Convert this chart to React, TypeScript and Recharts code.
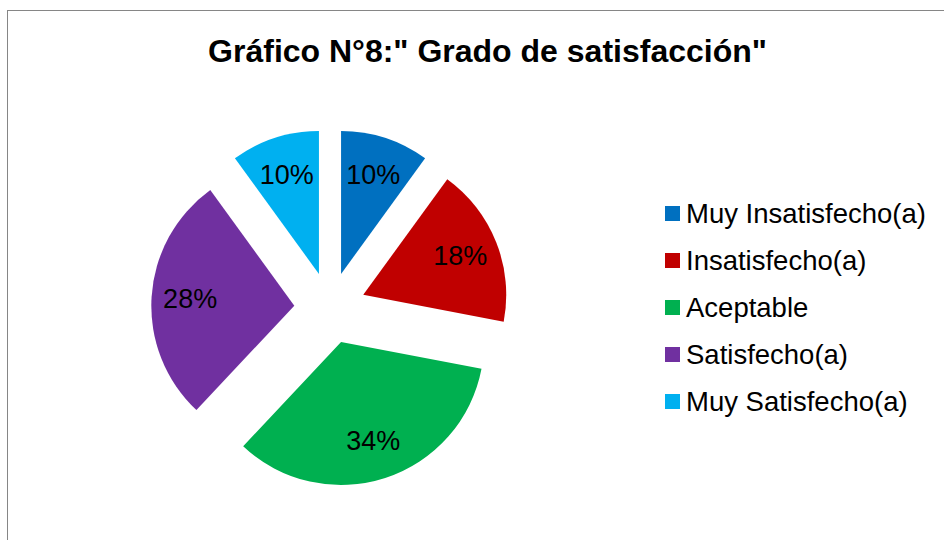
import { PieChart, Pie, Cell, Legend, Sector } from 'recharts';

const CATEGORIES = ['Muy Insatisfecho(a)', 'Insatisfecho(a)', 'Aceptable', 'Satisfecho(a)', 'Muy Satisfecho(a)'];
const PERCENTS = [10, 18, 34, 28, 10];
const COLORS = ['#0070C0', '#C00000', '#00B050', '#7030A0', '#00B0F0'];

const data = CATEGORIES.map((name, i) => ({ name, value: PERCENTS[i] }));

const FONT = '"Liberation Sans", Arial, sans-serif';
const RADIAN = Math.PI / 180;
const EXPLODE = 0.25;

// each slice is drawn pulled out from the centre, with its percentage inside
const renderSlice = (props: any) => {
	const { cx, cy, midAngle, outerRadius, startAngle, endAngle, percent, index } = props;
	const d = outerRadius * EXPLODE;
	const ex = cx + d * Math.cos(-midAngle * RADIAN);
	const ey = cy + d * Math.sin(-midAngle * RADIAN);
	const lr = outerRadius * 0.73;
	const lx = ex + lr * Math.cos(-midAngle * RADIAN);
	const ly = ey + lr * Math.sin(-midAngle * RADIAN);
	return (
		<g>
			<Sector
				cx={ex}
				cy={ey}
				innerRadius={0}
				outerRadius={outerRadius}
				startAngle={startAngle}
				endAngle={endAngle}
				fill={COLORS[index]}
				stroke="none"
			/>
			<text
				x={lx}
				y={ly}
				textAnchor="middle"
				dominantBaseline="central"
				fill="#000"
				fontSize={27}
				fontFamily={FONT}
			>
				{`${Math.round(percent * 100)}%`}
			</text>
		</g>
	);
};

// keep the legend in data order (recharts sorts it by name otherwise)
const renderLegend = (props: any) => {
	const items = [...(props.payload || [])].sort(
		(a: any, b: any) => CATEGORIES.indexOf(a.value) - CATEGORIES.indexOf(b.value)
	);
	return (
		<div style={{ fontFamily: FONT, fontSize: 27.5, color: '#000' }}>
			{items.map((entry: any) => (
				<div key={entry.value} style={{ display: 'flex', alignItems: 'center', height: 47, whiteSpace: 'nowrap' }}>
					<span
						style={{
							display: 'inline-block',
							width: 15,
							height: 15,
							background: COLORS[CATEGORIES.indexOf(entry.value)],
							marginRight: 6,
						}}
					/>
					<span>{entry.value}</span>
				</div>
			))}
		</div>
	);
};

export default function App() {
	return (
		<div style={{ position: 'absolute', left: 0, top: 0, width: 944, height: 540, overflow: 'hidden', background: '#fff' }}>
			<div style={{ position: 'absolute', left: 7, top: 10, width: 1000, height: 600, border: '1px solid #868686' }} />
			<div
				style={{
					position: 'absolute',
					left: 487.5,
					top: 35,
					transform: 'translateX(-50%)',
					whiteSpace: 'nowrap',
					fontFamily: FONT,
					fontWeight: 'bold',
					fontSize: 32,
					lineHeight: '32px',
					color: '#000',
				}}
			>
				Gráfico N°8:" Grado de satisfacción"
			</div>
			<div style={{ position: 'absolute', left: 0, top: 0 }}>
				<PieChart width={944} height={540} margin={{ top: 0, right: 0, bottom: 0, left: 0 }}>
					<Pie
						data={data}
						dataKey="value"
						nameKey="name"
						cx={330}
						cy={308}
						outerRadius={143}
						startAngle={90}
						endAngle={-270}
						stroke="none"
						label={renderSlice}
						labelLine={false}
						isAnimationActive={false}
					>
						{data.map((entry, i) => (
							<Cell key={entry.name} fill={COLORS[i]} fillOpacity={0} />
						))}
					</Pie>
					<Legend
						layout="vertical"
						align="right"
						verticalAlign="top"
						content={renderLegend}
						wrapperStyle={{ left: 665, top: 190, width: 279 }}
					/>
				</PieChart>
			</div>
		</div>
	);
}
